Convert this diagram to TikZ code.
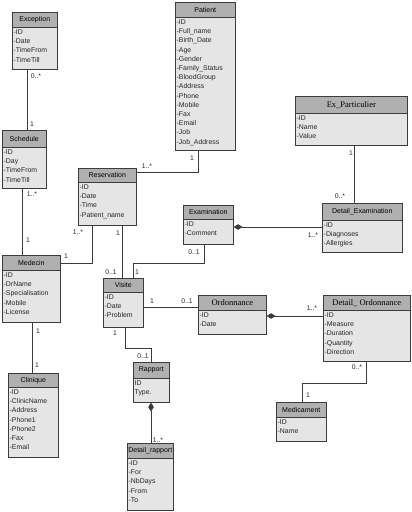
\documentclass[tikz,border=0pt]{standalone}
\usepackage{fontspec}
\setmainfont{Liberation Sans}
\newfontfamily\serifhd{Liberation Serif}
\usetikzlibrary{arrows.meta,calc}
\definecolor{hdgray}{RGB}{176,176,176}
\definecolor{bdgray}{RGB}{229,229,229}
\definecolor{edgegray}{RGB}{60,60,60}
\newcommand\umlbox[8]{%
  \node[bodybox, minimum width={(#4-#2)*1pt}, minimum height={(#6-#3)*1pt}] (#1) at (#2,#3) {};
  \node[headbox, minimum width={(#4-#2)*1pt}, minimum height={(#5-#3)*1pt}] (#1-h) at (#2,#3) {#7};
  \node[attrbox] (#1-a) at (#2,#5) {#8};
}
\tikzset{
  bodybox/.style={draw=edgegray, fill=bdgray, anchor=north west, inner sep=0pt, line width=0.6pt},
  headbox/.style={draw=edgegray, fill=hdgray, anchor=north west, inner sep=0pt, font=\fontsize{7}{8}\selectfont, line width=0.6pt},
  attrbox/.style={anchor=north west, align=left, inner xsep=1.5pt, inner ysep=2.6pt, font=\fontsize{6.9}{9.2}\selectfont, text=black!85},
  conn/.style={draw=edgegray, line width=0.75pt},
  mult/.style={font=\fontsize{6.8}{8}\selectfont, inner sep=0pt, text=black!85},
  comp/.style={{Diamond[length=9pt,width=5.5pt]}-}
}
\begin{document}
\begin{tikzpicture}[x=1pt,y=-1pt]
\useasboundingbox[fill=white] (0,0) rectangle (412,512);

\umlbox{exception}{12}{12}{57}{27}{69}{Exception}{-ID\\-Date\\-TimeFrom\\-TimeTill}
\umlbox{schedule}{2}{130}{46}{147}{188}{Schedule}{-ID\\-Day\\-TimeFrom\\-TimeTill}
\umlbox{medecin}{2}{255}{60}{270}{322}{Medecin}{-ID\\-DrName\\-Specialisation\\-Mobile\\-License}
\umlbox{clinique}{8}{373}{58}{387}{457}{Clinique}{-ID\\-ClinicName\\-Address\\-Phone1\\-Phone2\\-Fax\\-Email}
\umlbox{patient}{175}{2}{235}{17}{150}{Patient}{-ID\\-Full\_name\\-Birth\_Date\\-Age\\-Gender\\-Family\_Status\\-BloodGroup\\-Address\\-Phone\\-Mobile\\-Fax\\-Email\\-Job\\-Job\_Address}
\umlbox{reservation}{78}{168}{136}{182}{225}{Reservation}{-ID\\-Date\\-Time\\-Patient\_name}
\umlbox{examination}{183}{205}{233}{219}{244}{Examination}{-ID\\-Comment}
\umlbox{expart}{295}{96}{407}{113}{145}{{\serifhd\fontsize{8.5}{9}\selectfont Ex\_Particulier}}{-ID\\-Name\\-Value}
\umlbox{detex}{322}{203}{402}{220}{252}{Detail\_Examination}{-ID\\-Diagnoses\\-Allergies}
\umlbox{visite}{103}{278}{143}{292}{327}{Visite}{-ID\\-Date\\-Problem}
\umlbox{ordo}{198}{295}{266}{310}{334}{{\serifhd\fontsize{8.5}{9}\selectfont Ordonnance}}{-ID\\-Date}
\umlbox{detord}{323}{295}{410}{310}{361}{{\serifhd\fontsize{8.5}{9}\selectfont Detail\_ Ordonnance}}{-ID\\-Measure\\-Duration\\-Quantity\\-Direction}
\umlbox{medic}{276}{402}{326}{417}{441}{Medicament}{-ID\\-Name}
\umlbox{rapport}{133}{362}{169}{378}{402}{Rapport}{ID\\Type.}
\umlbox{detrap}{127}{443}{173}{458}{510}{Detail\_rapport}{-ID\\-For\\-NbDays\\-From\\-To}

% connectors
\draw[conn] ([xshift=15pt]exception.south west) -- ([xshift=15pt]exception.south west |- schedule.north);
\draw[conn] ([xshift=20pt]schedule.south west) -- ([xshift=20pt]schedule.south west |- medecin.north);
\draw[conn] ([xshift=30pt]medecin.south west) -- ([xshift=30pt]medecin.south west |- clinique.north);
\draw[conn] ([yshift=-8pt]medecin.north east) -| ([xshift=14pt]reservation.south west);
\draw[conn] ([xshift=23pt]patient.south west) |- ([yshift=-4pt]reservation.north east);
\draw[conn] ([xshift=44pt]reservation.south west) -- ([xshift=44pt]reservation.south west |- visite.north);
\draw[conn] ([xshift=21pt]examination.south west) -- ++(0,19) -| ([xshift=30pt]visite.north west);
\draw[conn,comp] ([yshift=-22pt]examination.north east) -- ([yshift=-22pt]examination.north east -| detex.west);
\draw[conn] ([xshift=59pt]expart.south west) -- ([xshift=59pt]expart.south west |- detex.north);
\draw[conn] ([yshift=-29pt]visite.north east) -- ([yshift=-29pt]visite.north east -| ordo.west);
\draw[conn,comp] ([yshift=-21pt]ordo.north east) -- ([yshift=-21pt]ordo.north east -| detord.west);
\draw[conn] ([xshift=43pt]detord.south west) -- ++(0,22) -| ([xshift=26pt]medic.north west);
\draw[conn] ([xshift=22pt]visite.south west) -- ++(0,21) -| ([xshift=18pt]rapport.north west);
\draw[conn,comp] ([xshift=18pt]rapport.south west) -- ([xshift=18pt]rapport.south west |- detrap.north);

% multiplicities
\node[mult] (l1) at (36,76) {0..*};
\node[mult] (l2) at (32,124) {1};
\node[mult] (l3) at (32,194) {1..*};
\node[mult] (l4) at (28,240) {1};
\node[mult] (l5) at (38,331) {1};
\node[mult] (l6) at (37,365) {1};
\node[mult] (l7) at (66,256) {1};
\node[mult] (l8) at (78,232) {1..*};
\node[mult] (l9) at (192,158) {1};
\node[mult] (l10) at (147,166) {1..*};
\node[mult] (l11) at (118,233) {1};
\node[mult] (l12) at (111,272) {0..1};
\node[mult] (l13) at (137,272) {1};
\node[mult] (l14) at (194,252) {0..1};
\node[mult] (l15) at (313,235) {1..*};
\node[mult] (l16) at (351,153) {1};
\node[mult] (l17) at (340,196) {0..*};
\node[mult] (l18) at (152,301) {1};
\node[mult] (l19) at (187,301) {0..1};
\node[mult] (l20) at (312,308) {1..*};
\node[mult] (l21) at (357,367) {0..*};
\node[mult] (l22) at (308,395) {1};
\node[mult] (l23) at (115,333) {1};
\node[mult] (l24) at (143,356) {0..1};
\node[mult] (l25) at (158,440) {1..*};
\end{tikzpicture}
\end{document}
